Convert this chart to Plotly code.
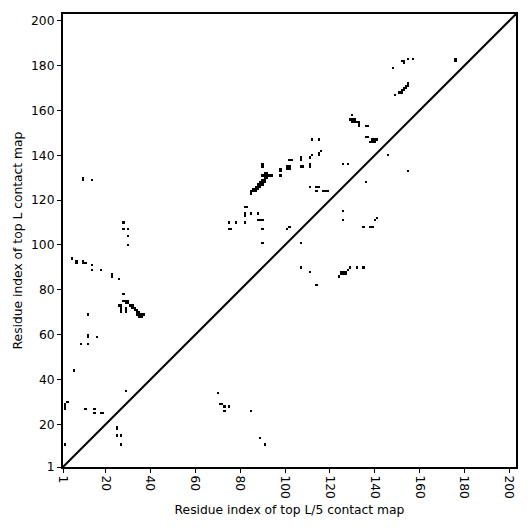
import plotly.graph_objects as go

# Contacts above the diagonal (top L contact map)
upper_x = [2, 2, 2, 2, 3, 6, 5, 7, 7, 10, 10, 11, 14, 14, 18, 23, 23, 26, 28,
           28, 29, 30, 29, 30, 26, 27, 27, 31, 32, 27, 27, 27, 29, 29, 29,
           32, 33, 33, 34, 34, 35, 34, 35, 36, 37, 35, 36,
           12, 12, 12, 16, 9, 12, 29, 11, 15, 15, 18, 19, 25, 25, 25, 27, 27,
           30, 30, 28, 30, 28, 10, 10, 14,
           75, 78, 75, 76, 82, 83, 82, 82, 82, 85, 88, 88, 89, 90, 90, 90,
           85, 85, 86, 87, 86, 87, 88, 87, 88, 89, 88, 89, 90, 89, 90, 91, 90, 91,
           91, 92, 90, 91, 92, 93, 94, 91, 92,
           90, 90, 98, 98, 98, 101, 102, 101, 102, 102, 103, 101, 102,
           107, 107, 107, 108, 111, 111, 111, 112, 112, 115, 115, 115, 116,
           111, 114, 115, 114, 117, 118, 119, 126, 128,
           130, 129, 130, 131, 130, 131, 132, 133, 133, 133, 136, 137, 136, 137,
           138, 139, 140, 139, 140, 141, 148, 152, 153, 153, 155, 157, 176, 176,
           149, 151, 152, 152, 153, 153, 154, 154, 155, 155]
upper_y = [11, 27, 28, 29, 30, 44, 94, 92, 93, 92, 93, 92, 91, 89, 89, 86, 87, 85, 78,
           75, 75, 75, 74, 74, 73, 73, 72, 73, 73, 70, 71, 72, 70, 71, 72,
           72, 72, 71, 71, 70, 70, 69, 69, 69, 69, 68, 68,
           69, 60, 59, 59, 56, 56, 35, 27, 27, 25, 25, 25, 18, 19, 15, 15, 11,
           100, 104, 107, 107, 110, 129, 130, 129,
           110, 110, 107, 107, 117, 117, 113, 114, 110, 114, 114, 111, 111, 111, 107, 101,
           123, 124, 124, 124, 125, 125, 125, 126, 126, 126, 127, 127, 127, 128, 128, 128, 129, 129,
           130, 130, 131, 131, 131, 131, 131, 132, 132,
           135, 136, 133, 134, 131, 134, 134, 135, 135, 138, 138, 107, 108,
           138, 139, 135, 135, 135, 136, 139, 140, 147, 147, 140, 141, 142,
           126, 126, 126, 124, 124, 124, 124, 136, 136,
           158, 156, 156, 156, 155, 155, 155, 155, 154, 153, 153, 153, 148, 148,
           146, 146, 146, 147, 147, 147, 179, 182, 181, 182, 183, 183, 182, 183,
           167, 168, 168, 169, 169, 170, 170, 171, 171, 172]

# Contacts below the diagonal (top L/5 contact map)
lower_x = [70, 71, 72, 73, 75, 73, 85, 89, 91,
           107, 107, 111, 114, 124, 125, 126, 127, 125, 126, 127, 128, 129, 132, 135,
           126, 126, 135, 138, 139, 140, 141, 136, 146, 155]
lower_y = [34, 29, 29, 28, 28, 26, 26, 14, 11,
           101, 90, 88, 82, 86, 87, 87, 87, 88, 88, 88, 89, 90, 90, 90,
           115, 111, 108, 108, 108, 111, 112, 128, 140, 133]

L = 202
tick_vals = [1, 20, 40, 60, 80, 100, 120, 140, 160, 180, 200]
tick_text = [str(v) for v in tick_vals]

idx = list(range(1, L + 1))
z = [[None] * L for _ in range(L)]
for xs, ys in ((upper_x, upper_y), (lower_x, lower_y)):
    for a, b in zip(xs, ys):
        z[b - 1][a - 1] = 1

fig = go.Figure()
fig.add_trace(go.Heatmap(
    x=idx, y=idx, z=z, zmin=0, zmax=1,
    colorscale=[[0, "black"], [1, "black"]],
    showscale=False, hoverinfo="skip"))
fig.add_trace(go.Scatter(
    x=[1, L + 1], y=[1, L + 1], mode="lines",
    line=dict(color="black", width=2), showlegend=False, hoverinfo="skip"))

font = dict(family="DejaVu Sans", size=12.3, color="black")
axis_common = dict(
    range=[1, L + 1], tickvals=tick_vals, ticktext=tick_text,
    showgrid=False, zeroline=False, showline=True, linecolor="black",
    linewidth=2, mirror=True, ticks="outside", ticklen=4, tickwidth=1,
    tickcolor="black", tickfont=font, automargin=False)

fig.update_layout(
    width=523, height=523,
    margin=dict(l=55, r=15, t=6, b=64),
    plot_bgcolor="white", paper_bgcolor="white",
    font=font, showlegend=False,
    xaxis=dict(axis_common, tickangle=90,
               title=dict(text="Residue index of top L/5 contact map", font=font, standoff=7)),
    yaxis=dict(axis_common,
               title=dict(text="Residue index of top L contact map", font=font, standoff=6)),
)

fig.write_html("out.html")
